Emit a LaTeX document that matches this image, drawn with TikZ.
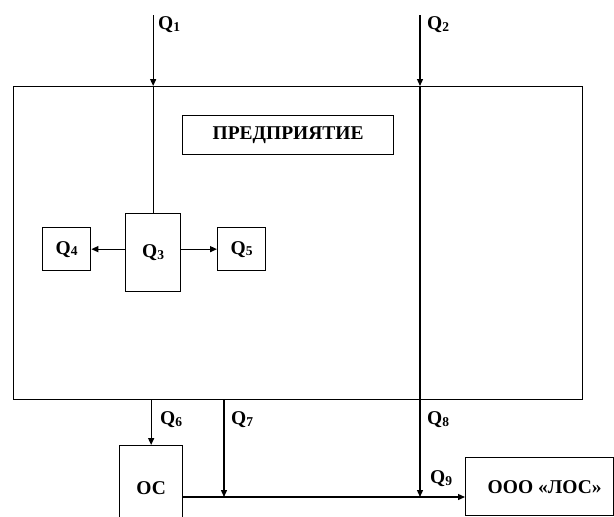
\documentclass[tikz,border=0pt]{standalone}
\usepackage{fontspec}
\setmainfont{Liberation Serif}
\usetikzlibrary{arrows.meta}
\newcommand{\Qlab}[1]{Q\raisebox{-1.5pt}{\fontsize{13.5}{13.5}\selectfont #1}}
\begin{document}
\begin{tikzpicture}[x=1pt,y=-1pt,
  box/.style={draw, line width=1.3pt, inner sep=0pt},
  flow/.style={line width=1.3pt, -{Triangle[length=7pt,width=6pt]}},
  plain/.style={line width=1.3pt},
  lab/.style={anchor=west, inner sep=0pt, font=\fontsize{19.5}{22}\selectfont\bfseries},
  txt/.style={font=\fontsize{19.5}{22}\selectfont\bfseries}]
\useasboundingbox[fill=white] (0,0) rectangle (614,517);
\clip (0,0) rectangle (614,517);
% main enterprise box
\node[box, anchor=north west, minimum width=569pt, minimum height=313pt] (main) at (13,86) {};
\node[box, txt, anchor=north west, minimum width=211pt, minimum height=39pt] (pred) at (182,115) {ПРЕДПРИЯТИЕ};
\node[box, txt, anchor=north west, minimum width=55pt, minimum height=78pt] (q3) at (125,213) {\Qlab{3}};
\node[box, txt, anchor=north west, minimum width=48pt, minimum height=43pt] (q4) at (42,227) {\Qlab{4}};
\node[box, txt, anchor=north west, minimum width=48pt, minimum height=43pt] (q5) at (217,227) {\Qlab{5}};
\node[box, txt, anchor=north west, minimum width=63pt, minimum height=84pt] (oc) at (119,445) {ОС};
\node[box, txt, anchor=north west, minimum width=148pt, minimum height=58pt] (ooo) at (465,457) {\hspace{10pt}ООО «ЛОС»};
% coordinates
\coordinate (q1top) at (q3.north |- 0,15);
\coordinate (q2top) at (420,15);
\coordinate (q7top) at (224,399);
\coordinate (j7) at (224,497);
\coordinate (j8) at (420,497);
% connectors
\draw[flow] (q1top) -- (q1top |- main.north);
\draw[plain] (q1top |- main.north) -- (q3.north);
\draw[flow] (q2top) -- (q2top |- main.north);
\draw[flow] (q2top |- main.north) -- (j8);
\draw[flow] (q3.west |- q4.east) -- (q4.east);
\draw[flow] (q3.east |- q5.west) -- (q5.west);
\draw[flow] (oc.north |- main.south) -- (oc.north);
\draw[flow] (q7top) -- (j7);
\draw[flow] (oc.east |- j7) -- (ooo.west |- j7);
% labels
\node[lab] (l1) at (158,25) {\Qlab{1}};
\node[lab] (l2) at (427,25) {\Qlab{2}};
\node[lab] (l6) at (160,420) {\Qlab{6}};
\node[lab] (l7) at (231,420) {\Qlab{7}};
\node[lab] (l8) at (427,420) {\Qlab{8}};
\node[lab] (l9) at (430,479) {\Qlab{9}};
\end{tikzpicture}
\end{document}
